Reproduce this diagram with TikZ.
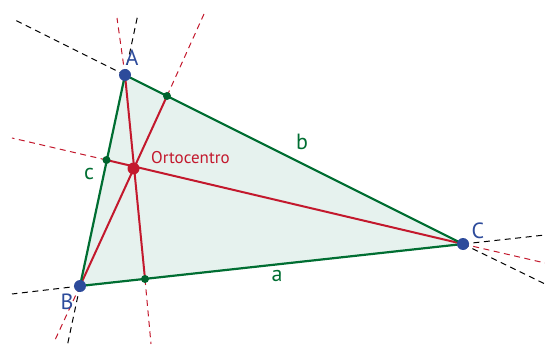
\documentclass[tikz,border=0pt]{standalone}
\usepackage{fontspec}
\setmainfont{PT Sans}
\definecolor{tgreen}{RGB}{0,110,50}
\definecolor{tblue}{RGB}{45,75,155}
\definecolor{tred}{RGB}{195,25,45}
\definecolor{tfill}{RGB}{230,242,238}
\begin{document}
\begin{tikzpicture}[x=1pt,y=-1pt,
  side/.style={draw=tgreen,line width=2.2pt},
  alt/.style={draw=tred,line width=2pt},
  ext/.style={draw=black,line width=1pt,dash pattern=on 6pt off 4.5pt},
  altext/.style={draw=tred,line width=1pt,dash pattern=on 6pt off 4.5pt},
  vdot/.style={circle,fill=tblue,inner sep=0pt,minimum size=12pt},
  hdot/.style={circle,fill=tred,inner sep=0pt,minimum size=12pt},
  fdot/.style={circle,fill=tgreen!90!black,inner sep=0pt,minimum size=8pt},
  vlab/.style={text=tblue,font=\fontsize{22}{24}\selectfont,inner sep=0pt},
  slab/.style={text=tgreen,font=\fontsize{22}{24}\selectfont,inner sep=0pt}]
\useasboundingbox (0,0) rectangle (545,347);
\coordinate (A) at (125,75);
\coordinate (B) at (80,286);
\coordinate (C) at (463,244);
\coordinate (H) at (133.5,168.5);
\coordinate (Fa) at (145,279);
\coordinate (Fb) at (167,96);
\coordinate (Fc) at (106.5,160);
% free ends of extensions
\coordinate (eA1) at (13,19);
\coordinate (eA2) at (138,14);
\coordinate (eB1) at (12,294);
\coordinate (eB2) at (67,347);
\coordinate (eC1) at (545,235);
\coordinate (eC2) at (545,284);
\coordinate (rA) at (117,18);
\coordinate (rFa) at (151,344);
\coordinate (rFb) at (204,14);
\coordinate (rB) at (55,340);
\coordinate (rFc) at (12,138);
\coordinate (rC) at (545,263);
% triangle fill
\fill[tfill] (A) -- (B) -- (C) -- cycle;
% dashed extensions
\draw[ext] (A) -- (eA1);
\draw[ext] (A) -- (eA2);
\draw[ext] (B) -- (eB1);
\draw[ext] (B) -- (eB2);
\draw[ext] (C) -- (eC1);
\draw[ext] (C) -- (eC2);
\draw[altext] (A) -- (rA);
\draw[altext] (Fa) -- (rFa);
\draw[altext] (Fb) -- (rFb);
\draw[altext] (B) -- (rB);
\draw[altext] (Fc) -- (rFc);
\draw[altext] (C) -- (rC);
% altitudes
\draw[alt] (A) -- (Fa);
\draw[alt] (B) -- (Fb);
\draw[alt] (C) -- (Fc);
% sides
\draw[side,line join=round] (A) -- (B) -- (C) -- cycle;
% dots
\node[fdot] (fa) at (Fa) {};
\node[fdot] (fb) at (Fb) {};
\node[fdot] (fc) at (Fc) {};
\node[hdot] (h) at (H) {};
\node[vdot] (va) at (A) {};
\node[vdot] (vb) at (B) {};
\node[vdot] (vc) at (C) {};
% labels
\node[vlab] (la) at (132,58) {A};
\node[vlab] (lb) at (67,302) {B};
\node[vlab] (lc) at (478,231) {C};
\node[slab] (sa) at (277,276) {a};
\node[slab] (sb) at (302,142) {b};
\node[slab] (sc) at (89,174) {c};
\node[text=tred,font=\fontsize{17}{19}\selectfont,anchor=west,inner sep=0pt] (lh) at (151,158) {Ortocentro};
\end{tikzpicture}
\end{document}
